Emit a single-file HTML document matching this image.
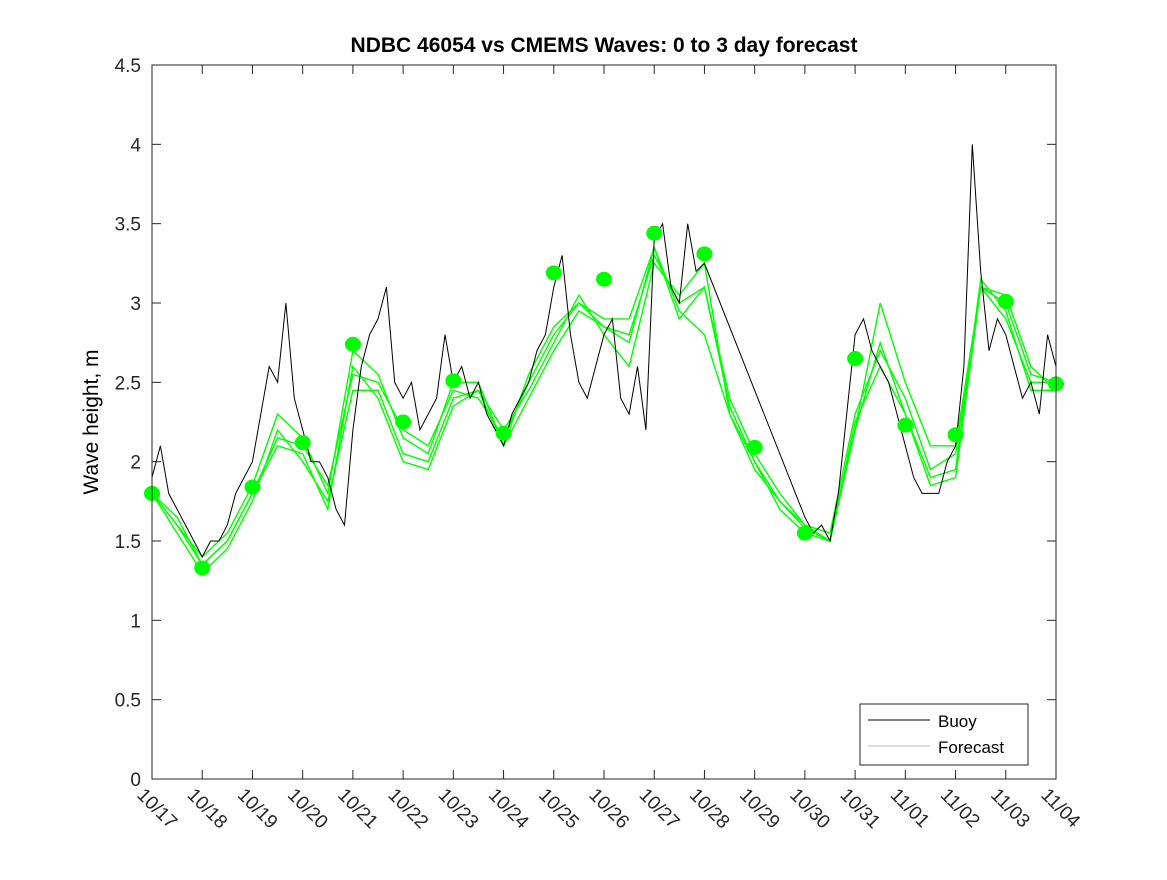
<!DOCTYPE html>
<html><head><meta charset="utf-8"><style>
body{margin:0;background:#fff;}
svg text{font-family:"Liberation Sans","DejaVu Sans",sans-serif;}
</style></head><body>
<svg id="chart" width="1167" height="875" xmlns="http://www.w3.org/2000/svg">
<rect width="1167" height="875" fill="#fff"/>
<text x="604" y="52" text-anchor="middle" font-size="21" font-weight="bold">NDBC 46054 vs CMEMS Waves: 0 to 3 day forecast</text>
<text transform="translate(98,422) rotate(-90)" text-anchor="middle" font-size="21">Wave height, m</text>
<g id="grid"></g>
<g id="marks"></g>
<rect x="152" y="65" width="904" height="714" fill="none" stroke="#262626" stroke-width="1"/>
<g>
<rect x="860" y="704" width="168" height="61" fill="#fff" stroke="#262626"/>
<line x1="868" y1="720" x2="930" y2="720" stroke="#000"/>
<text x="938" y="727" font-size="17">Buoy</text>
<line x1="868" y1="746" x2="930" y2="746" stroke="#7f7f7f" stroke-width="0.6"/>
<text x="938" y="753" font-size="17">Forecast</text>
</g>
</svg>
<script>
const xLabels=["10/17","10/18","10/19","10/20","10/21","10/22","10/23","10/24","10/25","10/26","10/27","10/28","10/29","10/30","10/31","11/01","11/02","11/03","11/04"];
const yTicks=[0,0.5,1,1.5,2,2.5,3,3.5,4,4.5];
// buoy, 6 samples per day starting 10/17
const buoy=[
1.9,2.1,1.8,1.7,1.6,1.5,
1.4,1.5,1.5,1.6,1.8,1.9,
2.0,2.3,2.6,2.5,3.0,2.4,
2.2,2.0,2.0,1.9,1.7,1.6,
2.2,2.6,2.8,2.9,3.1,2.5,
2.4,2.5,2.2,2.3,2.4,2.8,
2.5,2.6,2.4,2.5,2.3,2.2,
2.1,2.3,2.4,2.5,2.7,2.8,
3.1,3.3,2.8,2.5,2.4,2.6,
2.8,2.9,2.4,2.3,2.6,2.2,
3.4,3.5,3.1,3.0,3.5,3.2,
3.25,null,null,null,null,null,
null,null,null,null,null,null,
1.65,1.55,1.6,1.5,1.8,2.3,
2.8,2.9,2.7,2.6,2.5,2.3,
2.1,1.9,1.8,1.8,1.8,2.0,
2.1,2.6,4.0,3.2,2.7,2.9,
2.8,2.6,2.4,2.5,2.3,2.8,
2.6];
// forecasts, 2 samples per day
const fc1=[1.8,1.6,1.35,1.5,1.8,2.15,2.1,1.85,2.55,2.5,2.2,2.1,2.45,2.4,2.15,2.5,2.8,3.0,2.85,2.8,3.3,3.0,3.1,2.4,2.05,1.8,1.6,1.55,2.3,2.7,2.4,1.95,2.05,3.1,2.9,2.5,2.5];
const fc2=[1.8,1.55,1.3,1.45,1.75,2.2,2.0,1.75,2.45,2.45,2.05,2.0,2.4,2.45,2.2,2.45,2.75,3.05,2.8,2.6,3.25,3.05,3.25,2.3,1.95,1.75,1.58,1.5,2.2,2.75,2.3,1.9,1.95,3.15,2.95,2.45,2.45];
const fc3=[1.8,1.6,1.4,1.55,1.85,2.3,2.15,1.8,2.7,2.55,2.15,2.05,2.5,2.5,2.1,2.55,2.85,3.0,2.9,2.9,3.35,2.9,3.1,2.35,2.0,1.7,1.55,1.5,2.2,3.0,2.5,2.1,2.1,3.1,3.05,2.6,2.45];
const fc4=[1.8,1.65,1.35,1.5,1.8,2.1,2.05,1.7,2.6,2.4,2.0,1.95,2.35,2.45,2.1,2.4,2.7,2.95,2.85,2.75,3.35,2.95,2.8,2.3,2.0,1.75,1.6,1.5,2.25,2.6,2.3,1.85,1.9,3.1,3.0,2.55,2.5];
const dots=[1.8,1.33,1.84,2.12,2.74,2.25,2.51,2.18,3.19,3.15,3.44,3.31,2.09,1.55,2.65,2.23,2.17,3.01,2.49];
const X=d=>152+d*(904/18), Y=v=>779-v*(714/4.5);
const NS="http://www.w3.org/2000/svg";
const grid=document.getElementById('grid'), marks=document.getElementById('marks');
function mk(t,a,p){const e=document.createElementNS(NS,t);for(const k in a)e.setAttribute(k,a[k]);p.appendChild(e);return e;}
yTicks.forEach(v=>{
 const l=mk('line',{x1:152,x2:161,y1:Y(v),y2:Y(v),stroke:'#262626'},grid);
 
 
 const r=mk('line',{x1:1047,x2:1056,y1:Y(v),y2:Y(v),stroke:'#262626'},grid);
 
 
 const t=mk('text',{x:141,y:Y(v)+7,'text-anchor':'end','font-size':'19',fill:'#262626'},grid);
 t.textContent=String(v);
 
 
});
xLabels.forEach((s,i)=>{
 const l=mk('line',{x1:X(i),x2:X(i),y1:779,y2:770,stroke:'#262626'},grid);
 
 
 const u=mk('line',{x1:X(i),x2:X(i),y1:65,y2:74,stroke:'#262626'},grid);
 
 
 const t=mk('text',{transform:`translate(${X(i)-16},${796}) rotate(45)`,'font-size':'19',fill:'#262626'},grid);
 t.textContent=s;
 
 
});
function path(arr,step){let d='';arr.forEach((v,i)=>{if(v==null)return;d+=(d?'L':'M')+X(i*step).toFixed(1)+','+Y(v).toFixed(1);});return d;}
[fc1,fc2,fc3,fc4].forEach((a,i)=>{
 const p=mk('path',{d:path(a,0.5),fill:'none',stroke:'#00ff00','stroke-width':1.4},marks);
 
 
});
const b=mk('path',{d:path(buoy,1/6),fill:'none',stroke:'#000','stroke-width':1},marks);


dots.forEach((v,i)=>{
 const c=mk('ellipse',{cx:X(i),cy:Y(v),rx:8,ry:7.5,fill:'#00ff00'},marks);
 
 
});
</script>
</body></html>
